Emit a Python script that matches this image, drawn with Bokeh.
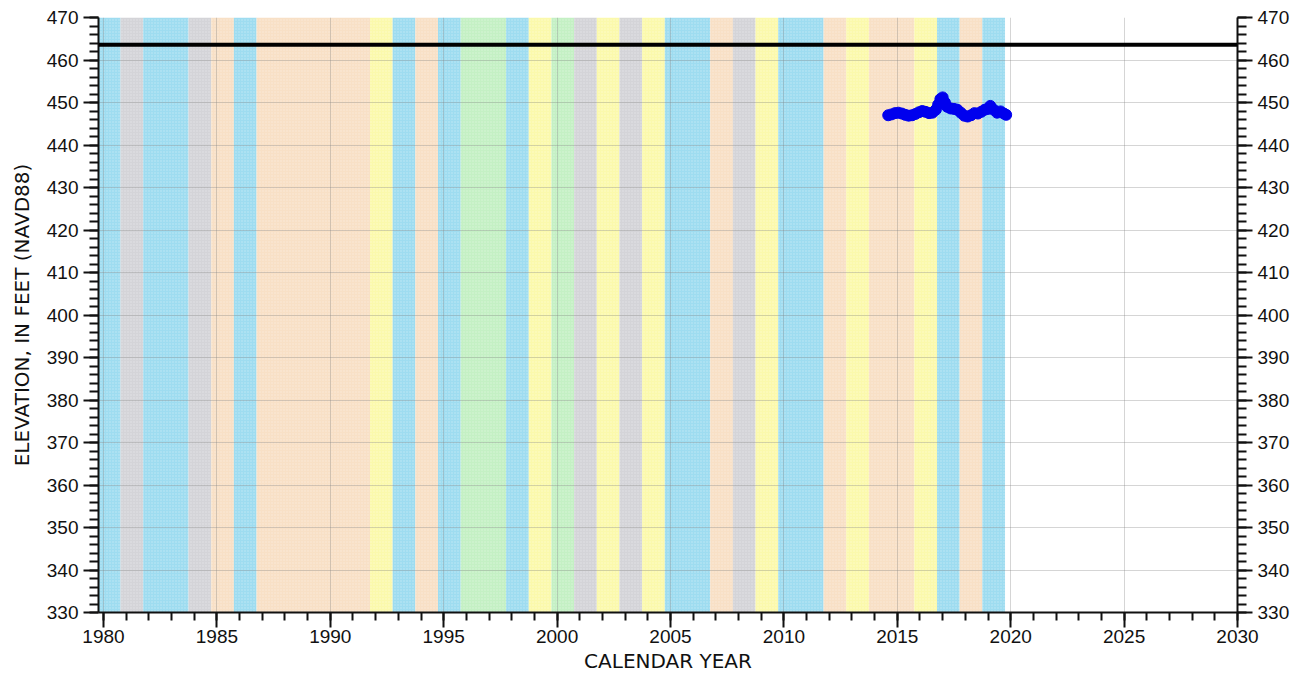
from bokeh.plotting import figure
from bokeh.models import Range1d, LinearAxis, SingleIntervalTicker, Span, ColumnDataSource
from bokeh.embed import file_html
from bokeh.resources import INLINE

# Background condition bands (water years, start/end in decimal years)
band_start = [1979.75, 1980.75, 1981.75, 1983.75, 1984.75, 1985.75, 1986.75, 1991.75,
              1992.75, 1993.75, 1994.75, 1995.75, 1997.75, 1998.75, 1999.75, 2000.75,
              2001.75, 2002.75, 2003.75, 2004.75, 2006.75, 2007.75, 2008.75, 2009.75,
              2011.75, 2012.75, 2013.75, 2015.75, 2016.75, 2017.75, 2018.75]
band_end = band_start[1:] + [2019.75]
band_kind = ["wet", "normal", "wet", "normal", "dry", "wet", "dry", "belownormal",
             "wet", "dry", "wet", "verywet", "wet", "belownormal", "verywet", "normal",
             "belownormal", "normal", "belownormal", "wet", "dry", "normal", "belownormal", "wet",
             "dry", "belownormal", "dry", "belownormal", "wet", "dry", "wet"]
kind_colors = {"wet": "#9edcf0", "normal": "#d4d4d8", "dry": "#f8e0c6",
               "belownormal": "#fbf9ac", "verywet": "#c4f0c4"}

# Water-level observations
obs_year = [2014.6, 2014.75, 2014.9, 2015.05, 2015.2, 2015.35, 2015.5, 2015.65, 2015.8,
            2015.95, 2016.1, 2016.25, 2016.4, 2016.55, 2016.7, 2016.8, 2016.9, 2017.0,
            2017.1, 2017.2, 2017.35, 2017.5, 2017.65, 2017.8, 2017.95, 2018.1, 2018.25,
            2018.4, 2018.55, 2018.7, 2018.85, 2019.0, 2019.1, 2019.25, 2019.4, 2019.55,
            2019.7, 2019.8]
obs_elev = [447.0, 447.2, 447.5, 447.6, 447.4, 447.1, 446.9, 447.0, 447.3,
            447.7, 448.0, 447.8, 447.5, 447.6, 448.3, 449.5, 450.8, 451.2,
            450.0, 449.0, 448.6, 448.5, 448.3, 447.6, 446.9, 446.7, 447.0,
            447.5, 447.4, 447.8, 448.3, 448.5, 449.2, 448.3, 447.6, 447.9,
            447.4, 447.1]

land_surface = 463.6

FONT = "Liberation Sans"
LABEL_FONT = "DejaVu Sans"

p = figure(frame_width=1139, frame_height=595, output_backend="svg", toolbar_location=None,
           x_range=Range1d(1979.78, 2030), y_range=Range1d(330, 470),
           min_border_left=98, min_border_top=17, min_border_right=56, min_border_bottom=64)
p.outline_line_color = None
p.background_fill_color = "white"

bands = ColumnDataSource(dict(left=band_start, right=band_end,
                              color=[kind_colors[k] for k in band_kind]))
p.quad(left="left", right="right", bottom=330, top=470, source=bands,
       fill_color="color", line_color=None, level="image",
       hatch_pattern="dot", hatch_color="white", hatch_alpha=0.35, hatch_scale=3)

p.add_layout(Span(location=land_surface, dimension="width", line_color="black", line_width=4))

p.line(obs_year, obs_elev, line_color="#0000ee", line_width=8)
p.scatter(obs_year, obs_elev, size=11, fill_color="#0000ee", line_color="#0000ee")

p.xaxis.ticker = SingleIntervalTicker(interval=5, num_minor_ticks=5)
p.yaxis.ticker = SingleIntervalTicker(interval=10, num_minor_ticks=5)
p.xaxis.axis_label = "CALENDAR YEAR"
p.yaxis.axis_label = "ELEVATION, IN FEET (NAVD88)"

p.xgrid.grid_line_color = "#888888"
p.xgrid.grid_line_alpha = 0.35
p.ygrid.grid_line_color = "#888888"
p.ygrid.grid_line_alpha = 0.35

right = LinearAxis(ticker=SingleIntervalTicker(interval=10, num_minor_ticks=5))
p.add_layout(right, "right")

for ax in [p.xaxis[0], p.yaxis[0], right]:
    ax.axis_line_width = 2
    ax.axis_line_color = "#111111"
    ax.major_tick_line_width = 2
    ax.minor_tick_line_width = 2
    ax.major_tick_line_color = "#111111"
    ax.minor_tick_line_color = "#111111"
    ax.major_tick_out = 15
    ax.major_tick_in = 0
    ax.minor_tick_out = 9
    ax.minor_tick_in = 0
    ax.major_label_text_font = FONT
    ax.major_label_text_font_size = "19px"
    ax.major_label_text_color = "#111111"
    ax.major_label_standoff = 5
    ax.axis_label_text_font = LABEL_FONT
    ax.axis_label_text_font_size = "20px"
    ax.axis_label_text_font_style = "normal"
    ax.axis_label_text_color = "#111111"
    ax.axis_label_standoff = 10

p.xaxis.minor_tick_out = 8
p.xaxis.major_label_standoff = 2
p.xaxis.axis_label_standoff = 3

open("out.html", "w").write(file_html(p, INLINE))
